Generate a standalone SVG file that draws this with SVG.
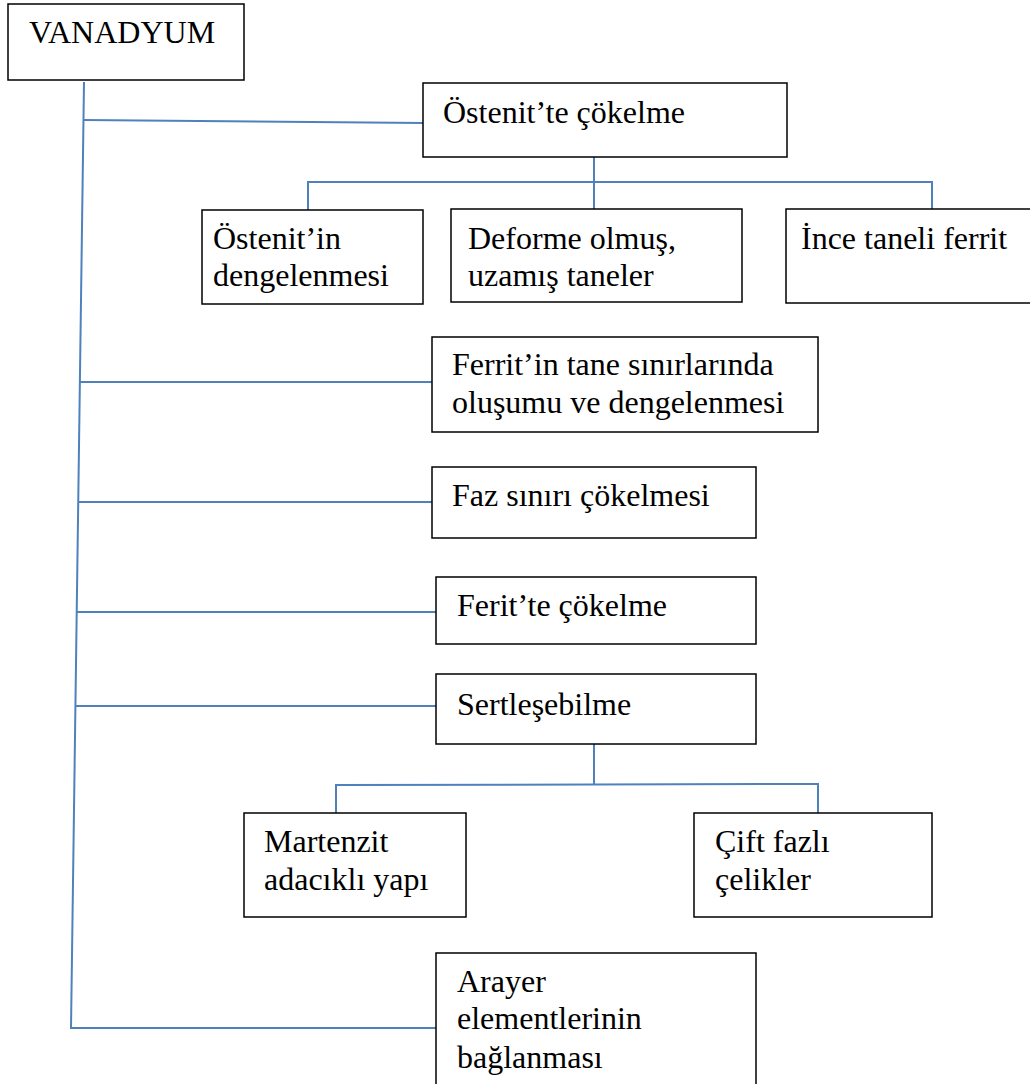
<svg xmlns="http://www.w3.org/2000/svg" width="1030" height="1084" viewBox="0 0 1030 1084">
  <style>
    .box { fill: #ffffff; stroke: #000000; stroke-width: 1.5; }
    .lbl { font-family: "Liberation Serif", "Times New Roman", serif; font-size: 32px; fill: #000000; }
    .conn { fill: none; stroke: #4f81bd; stroke-width: 2; }
  </style>
  <rect width="1030" height="1084" fill="#ffffff"/>

  <!-- connectors -->
  <g id="connectors">
    <!-- main trunk from VANADYUM -->
    <path class="conn" d="M84 82 L71 1028 L437 1028"/>
    <path class="conn" d="M84 120 L424 123"/>
    <path class="conn" d="M80 382 L432 382"/>
    <path class="conn" d="M79 502 L432 502"/>
    <path class="conn" d="M77 612 L436 612"/>
    <path class="conn" d="M76 706 L437 706"/>
    <!-- Östenit'te çökelme branches -->
    <path class="conn" d="M594 157 L594 209"/>
    <path class="conn" d="M308 210 L308 182 L932 182 L932 209"/>
    <!-- Sertleşebilme branches -->
    <path class="conn" d="M594 744 L594 784"/>
    <path class="conn" d="M336 813 L336 785 L818 784 L818 813"/>
  </g>

  <g id="vanadyum">
    <rect class="box" x="8" y="4" width="236" height="76"/>
    <text class="lbl" x="29" y="43">VANADYUM</text>
  </g>

  <g id="ostenit-cokelme">
    <rect class="box" x="423" y="83" width="364" height="74"/>
    <text class="lbl" x="443" y="123">Östenit’te çökelme</text>
  </g>

  <g id="ostenit-dengelenmesi">
    <rect class="box" x="202" y="210" width="221" height="94"/>
    <text class="lbl" x="213" y="249">Östenit’in</text>
    <text class="lbl" x="213" y="286">dengelenmesi</text>
  </g>

  <g id="deforme">
    <rect class="box" x="451" y="209" width="291" height="93"/>
    <text class="lbl" x="468" y="249">Deforme olmuş,</text>
    <text class="lbl" x="468" y="286">uzamış taneler</text>
  </g>

  <g id="ince-taneli">
    <rect class="box" x="786" y="209" width="260" height="94"/>
    <text class="lbl" x="801" y="249">İnce taneli ferrit</text>
  </g>

  <g id="ferrit-tane">
    <rect class="box" x="432" y="337" width="386" height="95"/>
    <text class="lbl" x="452" y="375">Ferrit’in tane sınırlarında</text>
    <text class="lbl" x="452" y="413">oluşumu ve dengelenmesi</text>
  </g>

  <g id="faz-siniri">
    <rect class="box" x="432" y="467" width="324" height="71"/>
    <text class="lbl" x="452" y="506">Faz sınırı çökelmesi</text>
  </g>

  <g id="ferit-cokelme">
    <rect class="box" x="436" y="577" width="320" height="67"/>
    <text class="lbl" x="457" y="616">Ferit’te çökelme</text>
  </g>

  <g id="sertlesebilme">
    <rect class="box" x="436" y="674" width="320" height="70"/>
    <text class="lbl" x="457" y="715">Sertleşebilme</text>
  </g>

  <g id="martenzit">
    <rect class="box" x="244" y="813" width="222" height="104"/>
    <text class="lbl" x="264" y="852">Martenzit</text>
    <text class="lbl" x="264" y="890">adacıklı yapı</text>
  </g>

  <g id="cift-fazli">
    <rect class="box" x="694" y="813" width="238" height="104"/>
    <text class="lbl" x="715" y="852">Çift fazlı</text>
    <text class="lbl" x="715" y="890">çelikler</text>
  </g>

  <g id="arayer">
    <rect class="box" x="436" y="953" width="320" height="140"/>
    <text class="lbl" x="457" y="992">Arayer</text>
    <text class="lbl" x="457" y="1029">elementlerinin</text>
    <text class="lbl" x="457" y="1068">bağlanması</text>
  </g>
</svg>
